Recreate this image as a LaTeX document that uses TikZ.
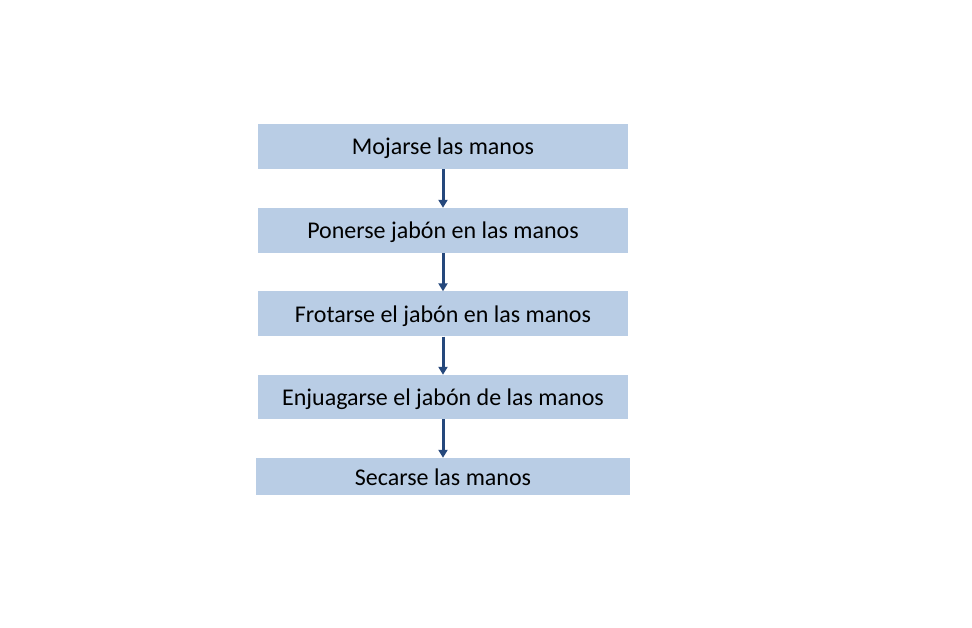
\documentclass[tikz,border=0pt]{standalone}
\usepackage{fontspec}
\setmainfont{Carlito}
\usetikzlibrary{arrows.meta}
\definecolor{boxfill}{RGB}{185,205,229}
\definecolor{arrowcol}{RGB}{37,72,124}
\tikzset{
  stepbox/.style={fill=boxfill, draw=none, inner sep=0pt, font=\fontsize{24}{28}\selectfont, text=black, text height=20pt, text depth=3pt},
  flow/.style={draw=arrowcol, line width=3pt, -{Triangle[length=8pt,width=9pt]}, shorten <=0pt, shorten >=0pt}
}
\begin{document}
\begin{tikzpicture}[x=1pt,y=-1pt]
\useasboundingbox (0,0) rectangle (972,628);
\node[stepbox, minimum width=370pt, minimum height=45pt] (a) at (443,146.5) {Mojarse las manos};
\node[stepbox, minimum width=370pt, minimum height=45pt] (b) at (443,230.5) {Ponerse jabón en las manos};
\node[stepbox, minimum width=370pt, minimum height=45pt] (c) at (443,314) {Frotarse el jabón en las manos};
\node[stepbox, minimum width=370pt, minimum height=44pt] (d) at (443,397) {Enjuagarse el jabón de las manos};
\node[stepbox, minimum width=374pt, minimum height=37pt] (e) at (443,476.5) {Secarse las manos};
\draw[flow] (a.south) -- (b.north);
\draw[flow] (b.south) -- (c.north);
\draw[flow] (c.south) -- (d.north);
\draw[flow] (d.south) -- (e.north);
\end{tikzpicture}
\end{document}
